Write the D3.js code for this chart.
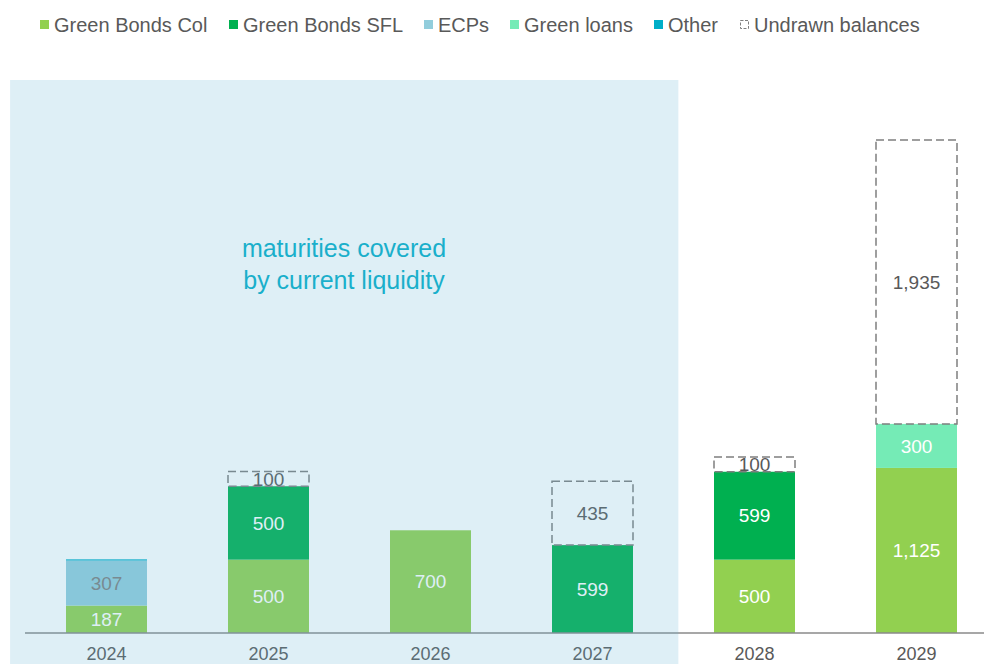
<!DOCTYPE html>
<html>
<head>
<meta charset="utf-8">
<script src="https://cdn.jsdelivr.net/npm/d3@7"></script>
<style>
  html, body { margin: 0; padding: 0; background: #fff; }
  svg { display: block; font-family: "Liberation Sans", Arial, sans-serif; }
</style>
</head>
<body>
<svg id="chart" width="984" height="664"></svg>
<script>
// years on the x axis
const years = ['2024', '2025', '2026', '2027', '2028', '2029'];

// series values per year (EUR m)
const greenBondsCol = [187, 500, 700, 0, 500, 1125];
const greenBondsSfl = [0, 500, 0, 599, 599, 0];
const ecps = [307, 0, 0, 0, 0, 0];
const greenLoans = [0, 0, 0, 0, 0, 300];
const other = [8, 0, 0, 0, 0, 0];
const undrawn = [0, 100, 0, 435, 100, 1935];

const seriesNames = ['Green Bonds Col', 'Green Bonds SFL', 'ECPs', 'Green loans', 'Other', 'Undrawn balances'];
const coveredYears = ['2024', '2025', '2026', '2027'];
const coveredText = ['maturities covered', 'by current liquidity'];

const svg = d3.select('#chart');
const W = 984, H = 664;
const baseY = 633;

const series = [
    { name: seriesNames[0], values: greenBondsCol, fill: '#92D050', label: '#ffffff' },
    { name: seriesNames[1], values: greenBondsSfl, fill: '#00B050', label: '#ffffff' },
    { name: seriesNames[2], values: ecps, fill: '#92CDDC', label: '#7f7f7f' },
    { name: seriesNames[3], values: greenLoans, fill: '#75EBB6', label: '#ffffff' },
    { name: seriesNames[4], values: other, fill: '#00AEC8', label: null },
    { name: seriesNames[5], values: undrawn, fill: 'none', label: '#595959', dashed: true }
];

// stacked table built from the arrays
const table = years.map((y, i) => {
    const row = { year: y };
    series.forEach(s => { row[s.name] = s.values[i]; });
    return row;
});
const stacked = d3.stack().keys(seriesNames)(table);

const x = d3.scaleBand().domain(years).range([25.5, 997.5]).paddingInner(0.5).paddingOuter(0.25);
const totals = table.map(r => d3.sum(seriesNames, k => r[k]));
const y = d3.scaleLinear().domain([0, d3.max(totals)]).range([baseY, 140]);

const fmt = d3.format(',');

// bars
stacked.forEach((layer, li) => {
    const s = series[li];
    const g = svg.append('g');
    layer.forEach((d, i) => {
        const v = d[1] - d[0];
        if (v <= 0) return;
        const yr = years[i];
        const r = g.append('rect')
            .attr('x', x(yr))
            .attr('y', y(d[1]))
            .attr('width', x.bandwidth())
            .attr('height', y(d[0]) - y(d[1]));
        if (s.dashed) {
            r.attr('fill', 'none')
                .attr('stroke', '#7f7f7f')
                .attr('stroke-width', 1.5)
                .attr('stroke-dasharray', '8,4');
        } else {
            r.attr('fill', s.fill);
        }
        if (s.label) {
            g.append('text')
                .attr('x', x(yr) + x.bandwidth() / 2)
                .attr('y', (y(d[0]) + y(d[1])) / 2)
                .attr('dy', '0.35em')
                .attr('text-anchor', 'middle')
                .attr('fill', s.label)
                .style('font-size', '19px')
                .text(fmt(v));
        }
    });
});

// x axis
const axis = svg.append('g')
    .attr('transform', `translate(0, ${baseY})`)
    .call(d3.axisBottom(x).tickSize(0).tickPadding(8));
axis.select('.domain').remove();
axis.append('line')
    .attr('x1', 25).attr('x2', W)
    .attr('stroke', '#8a8a8a').attr('stroke-width', 1.5);
axis.selectAll('.tick text')
    .attr('fill', '#595959')
    .attr('dy', '1.05em')
    .style('font-size', '18px')
    .style('font-family', '"Liberation Sans", Arial, sans-serif');

// shaded region for years covered by current liquidity
const first = coveredYears[0], last = coveredYears[coveredYears.length - 1];
const shadeX0 = x(first) - x.step() * 0.345;
const shadeX1 = x(last) + x.bandwidth() + x.step() * 0.28;
svg.append('rect')
    .attr('x', shadeX0)
    .attr('y', 80)
    .attr('width', shadeX1 - shadeX0)
    .attr('height', H - 80)
    .attr('fill', '#64B4D5')
    .attr('fill-opacity', 0.21);

svg.append('text')
    .attr('x', 344)
    .attr('y', 257)
    .attr('text-anchor', 'middle')
    .attr('fill', '#1AAFCB')
    .style('font-size', '25px')
    .selectAll('tspan')
    .data(coveredText)
    .join('tspan')
    .attr('x', 344)
    .attr('dy', (d, i) => i === 0 ? 0 : 32)
    .text(d => d);

// legend
const legendX = [40, 229, 424, 510, 654, 740];
const legend = svg.append('g');
series.forEach((s, i) => {
    const g = legend.append('g').attr('transform', `translate(${legendX[i]}, 20)`);
    if (s.dashed) {
        g.append('rect').attr('x', 0.5).attr('y', 0.5).attr('width', 8).attr('height', 8)
            .attr('fill', '#fff').attr('stroke', '#7f7f7f').attr('stroke-width', 1)
            .attr('stroke-dasharray', '3,1.5');
    } else {
        g.append('rect').attr('width', 9).attr('height', 9).attr('fill', s.fill);
    }
    g.append('text')
        .attr('x', 14)
        .attr('y', 12)
        .attr('fill', '#595959')
        .style('font-size', '20px')
        .text(s.name);
});
</script>
</body>
</html>
